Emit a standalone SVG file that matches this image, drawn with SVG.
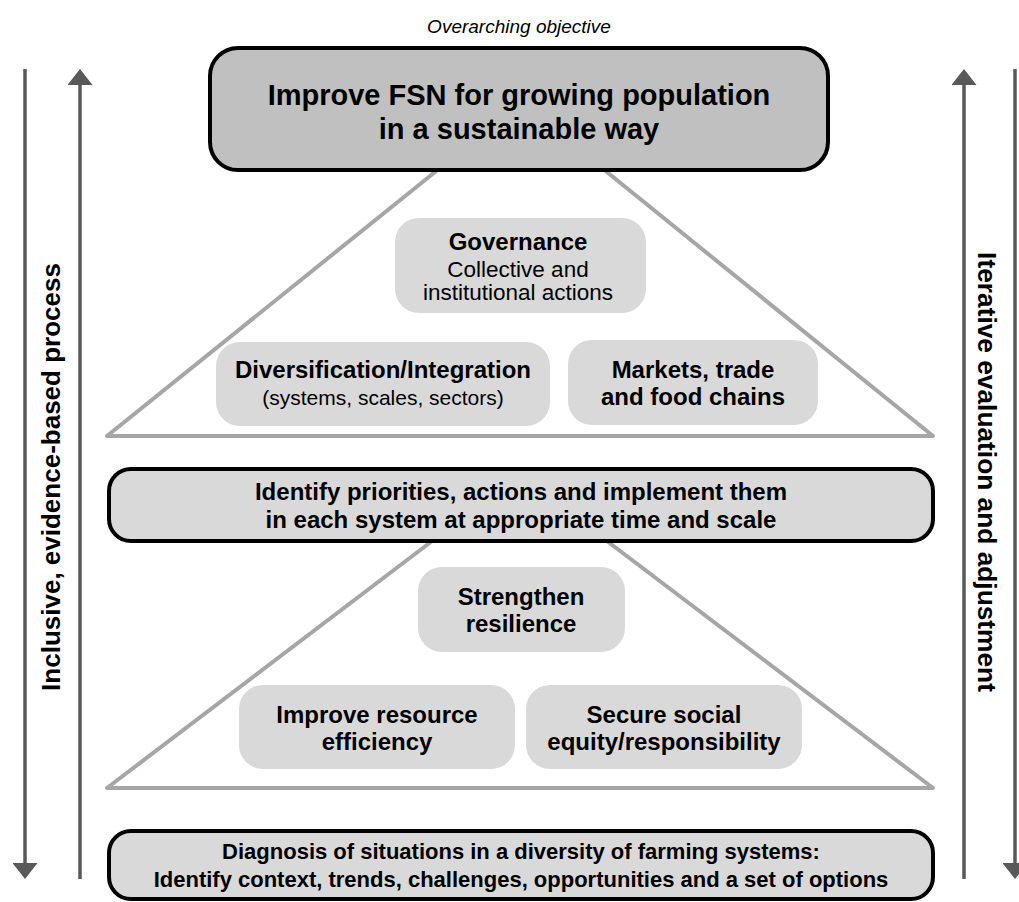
<svg xmlns="http://www.w3.org/2000/svg" width="1019" height="902" viewBox="0 0 1019 902">
<style>
text{font-family:"Liberation Sans",Arial,sans-serif;fill:#000;text-anchor:middle}
.b{font-weight:bold}
.main{fill:#d9d9d9;stroke:#000;stroke-width:4}
.top{fill:#c0c0c0;stroke:#000;stroke-width:4}
.soft{fill:#d9d9d9;stroke:none}
.pyr{fill:none;stroke:#a6a6a6;stroke-width:4;stroke-linejoin:round}
.arr{stroke:#595959;stroke-width:3.5;fill:none}
</style>
<defs>
<marker id="ah" markerWidth="16" markerHeight="25" refX="1" refY="12.5" orient="auto" markerUnits="userSpaceOnUse">
<path d="M0,0 L16,12.5 L0,25 Z" fill="#595959"/>
</marker>
</defs>
<text x="519" y="33" font-size="19" font-style="italic">Overarching objective</text>
<g id="connectors">
<line class="arr" x1="25" y1="69" x2="25" y2="864" marker-end="url(#ah)"/>
<line class="arr" x1="80" y1="879" x2="80" y2="84" marker-end="url(#ah)"/>
<line class="arr" x1="964" y1="879" x2="964" y2="84" marker-end="url(#ah)"/>
<line class="arr" x1="1015" y1="69" x2="1015" y2="864" marker-end="url(#ah)"/>
</g>
<g id="pyramid-upper">
<polyline class="pyr" points="445,164 107,436 933,436 597,164"/>
</g>
<g id="pyramid-lower">
<polyline class="pyr" points="440,535 107,788 933,788 599,535"/>
</g>
<g id="side-left">
<text class="b" font-size="26" transform="translate(60,477) rotate(-90)">Inclusive, evidence-based process</text>
</g>
<g id="side-right">
<text class="b" font-size="26.3" transform="translate(978,472) rotate(90)">Iterative evaluation and adjustment</text>
</g>
<g id="objective">
<rect class="top" x="210" y="48" width="618" height="122" rx="28"/>
<text class="b" font-size="29" x="519" y="105">Improve FSN for growing population</text>
<text class="b" font-size="29" x="519" y="139">in a sustainable way</text>
</g>
<g id="governance">
<rect class="soft" x="395" y="218" width="251" height="95" rx="24"/>
<text class="b" font-size="24" x="518" y="250">Governance</text>
<text font-size="22.5" x="518" y="277">Collective and</text>
<text font-size="22.5" x="518" y="300">institutional actions</text>
</g>
<g id="diversification">
<rect class="soft" x="216" y="342" width="334" height="84" rx="24"/>
<text class="b" font-size="24" x="383" y="378">Diversification/Integration</text>
<text font-size="21" x="383" y="405">(systems, scales, sectors)</text>
</g>
<g id="markets">
<rect class="soft" x="568" y="340" width="250" height="85" rx="24"/>
<text class="b" font-size="24" x="693" y="378">Markets, trade</text>
<text class="b" font-size="24" x="693" y="405">and food chains</text>
</g>
<g id="priorities">
<rect class="main" x="109" y="469" width="824" height="72" rx="22"/>
<text class="b" font-size="24" x="521" y="500">Identify priorities, actions and implement them</text>
<text class="b" font-size="24" x="521" y="528">in each system at appropriate time and scale</text>
</g>
<g id="resilience">
<rect class="soft" x="418" y="567" width="207" height="85" rx="24"/>
<text class="b" font-size="24" x="521" y="605">Strengthen</text>
<text class="b" font-size="24" x="521" y="632">resilience</text>
</g>
<g id="efficiency">
<rect class="soft" x="239" y="685" width="276" height="84" rx="24"/>
<text class="b" font-size="24" x="377" y="723">Improve resource</text>
<text class="b" font-size="24" x="377" y="750">efficiency</text>
</g>
<g id="equity">
<rect class="soft" x="526" y="685" width="276" height="84" rx="24"/>
<text class="b" font-size="24" x="664" y="723">Secure social</text>
<text class="b" font-size="24" x="664" y="750">equity/responsibility</text>
</g>
<g id="diagnosis">
<rect class="main" x="109" y="831" width="824" height="68" rx="22"/>
<text class="b" font-size="22" x="521" y="859">Diagnosis of situations in a diversity of farming systems:</text>
<text class="b" font-size="22" x="521" y="887">Identify context, trends, challenges, opportunities and a set of options</text>
</g>
</svg>
